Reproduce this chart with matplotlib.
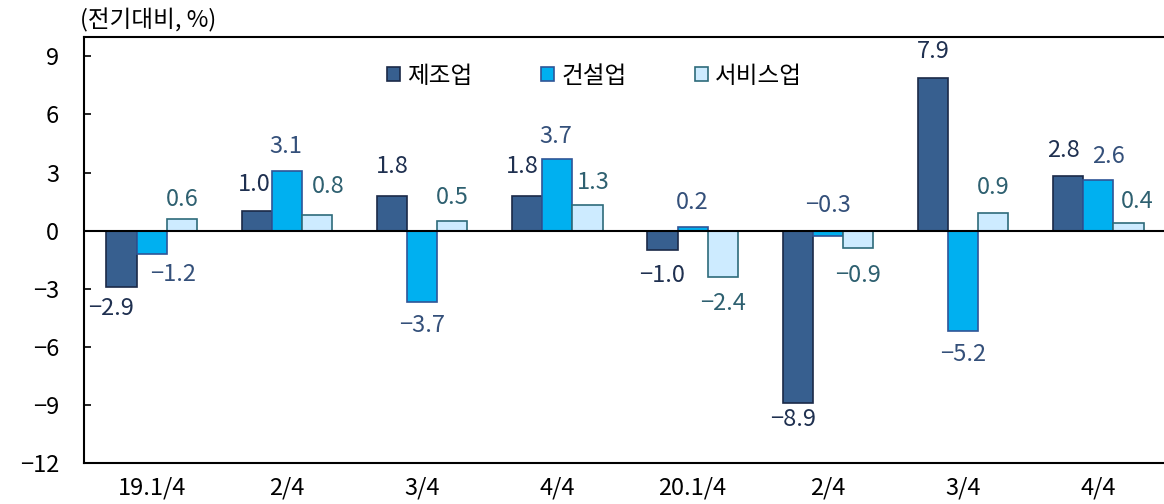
import matplotlib.pyplot as plt
import numpy as np

plt.rcParams["font.family"] = ["Noto Sans CJK KR", "DejaVu Sans"]

quarters = ["19.1/4", "2/4", "3/4", "4/4", "20.1/4", "2/4", "3/4", "4/4"]
series_names = ["제조업", "건설업", "서비스업"]
manufacturing = [-2.9, 1.0, 1.8, 1.8, -1.0, -8.9, 7.9, 2.8]
construction = [-1.2, 3.1, -3.7, 3.7, 0.2, -0.3, -5.2, 2.6]
services = [0.6, 0.8, 0.5, 1.3, -2.4, -0.9, 0.9, 0.4]

face_colors = ["#375f8f", "#00b0f0", "#cdebff"]
edge_colors = ["#1b2a48", "#2f5597", "#2e6b7a"]
text_colors = ["#1f3050", "#34507a", "#2e6070"]

# label nudges (pixels) from the end of each bar
label_offsets = [
    [(-10, -22), (-2, 27), (0, 29), (-5, 29), (0, -25), (-5, -17), (0, 26), (-5, 26)],
    [(21, -21), (-1, 24), (0, -23), (-2, 22), (0, 24), (0, 31), (0, -23), (10, 24)],
    [(0, 20), (11, 29), (0, 23), (6, 23), (0, -26), (0, -27), (0, 26), (9, 21)],
]


def fmt(v):
    s = f"{abs(v):.1f}"
    return ("\u2212" + s) if v < 0 else s


fig = plt.figure(figsize=(11.64, 5.04), dpi=100)
ax = fig.add_axes([84 / 1164, 41 / 504, 1082 / 1164, 426 / 504])

x = np.arange(len(quarters))
width = 0.223
all_series = [manufacturing, construction, services]

for i, values in enumerate(all_series):
    pos = x + (i - 1) * width
    ax.bar(
        pos,
        values,
        width,
        color=face_colors[i],
        edgecolor=edge_colors[i],
        linewidth=1.2,
        label=series_names[i],
        zorder=2,
    )
    for j, v in enumerate(values):
        dx, dy = label_offsets[i][j]
        ax.annotate(
            fmt(v),
            xy=(pos[j], v),
            xytext=(dx, dy),
            textcoords="offset pixels",
            ha="center",
            va="center",
            fontsize=17,
            color=text_colors[i],
        )

ax.axhline(0, color="black", linewidth=1.5, zorder=3)

ax.set_xlim(-0.5, len(quarters) - 0.5)
ax.set_ylim(-12, 10)
ticks = np.arange(-12, 10, 3)
ax.set_yticks(ticks)
ax.set_yticklabels([fmt(t).replace(".0", "") for t in ticks])
ax.set_xticks(x)
ax.set_xticklabels(quarters)

ax.tick_params(axis="y", direction="in", length=5, width=1.2, pad=18, labelsize=17)
ax.tick_params(axis="x", length=0, pad=10, labelsize=17)

ax.spines["right"].set_visible(False)
for side in ["top", "left", "bottom"]:
    ax.spines[side].set_linewidth(1.5)

fig.text(80 / 1164, 1 - 20 / 504, "(전기대비, %)", fontsize=17, va="center", ha="left")

ax.legend(
    loc="upper center",
    bbox_to_anchor=(0.472, 0.985),
    ncol=3,
    frameon=False,
    fontsize=17,
    handlelength=0.55,
    handleheight=0.55,
    handletextpad=0.3,
    columnspacing=2.9,
)

fig.savefig("out.png", dpi=100)
